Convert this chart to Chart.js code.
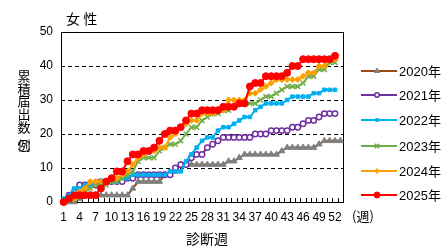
<!DOCTYPE html>
<html>
<head>
<meta charset="utf-8">
<script src="https://cdn.jsdelivr.net/npm/chart.js@4"></script>
<style>
  body { margin: 0; background: #fff; }
  #wrap { width: 445px; height: 251px; }
</style>
</head>
<body>
<div id="wrap"><canvas id="chart" width="445" height="251"></canvas></div>
<script>
// categories: diagnosis week
const weeks = [1, 2, 3, 4, 5, 6, 7, 8, 9, 10, 11, 12, 13, 14, 15, 16, 17, 18, 19, 20,
  21, 22, 23, 24, 25, 26, 27, 28, 29, 30, 31, 32, 33, 34, 35, 36, 37, 38, 39, 40,
  41, 42, 43, 44, 45, 46, 47, 48, 49, 50, 51, 52, 53]
const yTicks = [0, 10, 20, 30, 40, 50]

// cumulative counts per year
const y2020 = [0, 0, 0, 1, 2, 2, 2, 2, 2, 2, 2, 2, 2, 4, 6, 6, 6, 6, 6, 8,
  8, 9, 11, 11, 11, 11, 11, 11, 11, 11, 11, 12, 12, 13, 14, 14, 14, 14, 14, 14,
  14, 15, 16, 16, 16, 16, 16, 16, 17, 18, 18, 18, 18]
const y2021 = [0, 2, 3, 5, 5, 5, 5, 6, 6, 6, 6, 6, 7, 7, 8, 8, 8, 8, 8, 8,
  8, 10, 11, 11, 13, 14, 14, 16, 17, 18, 19, 19, 19, 19, 19, 19, 20, 20, 20, 21,
  21, 21, 21, 22, 22, 23, 24, 24, 25, 26, 26, 26, null]
const y2022 = [1, 2, 4, 4, 5, 5, 6, 6, 6, 6, 6, 7, 7, 8, 8, 8, 8, 8, 8, 8,
  9, 9, 9, 12, 14, 16, 18, 19, 19, 21, 22, 22, 23, 24, 25, 25, 27, 28, 29, 29,
  29, 29, 30, 31, 31, 31, 31, 32, 32, 33, 33, 33, null]
const y2023 = [0, 1, 1, 2, 3, 4, 5, 5, 5, 6, 6, 7, 8, 9, 12, 13, 13, 13, 15, 16,
  17, 17, 18, 20, 22, 22, 24, 25, 26, 26, 27, 27, 28, 29, 29, 29, 29, 30, 31, 31,
  32, 33, 34, 34, 34, 35, 37, 37, 39, 39, 41, 41, null]
const y2024 = [0, 1, 1, 3, 4, 6, 6, 6, 6, 7, 7, 8, 9, 11, 13, 14, 15, 15, 16, 16,
  19, 20, 22, 23, 24, 24, 26, 26, 26, 27, 27, 30, 30, 30, 30, 32, 32, 33, 34, 35,
  36, 36, 36, 36, 36, 37, 38, 38, 40, 40, 42, 42, null]
const y2025 = [0, 1, 2, 2, 2, 2, 2, 4, 6, 7, 9, 9, 12, 14, 14, 15, 15, 16, 18, 20,
  21, 21, 22, 24, 26, 26, 27, 27, 27, 27, 28, 28, 28, 29, 29, 34, 35, 35, 37, 37,
  37, 37, 38, 40, 40, 42, 42, 42, 42, 42, 42, 43, null]

const FONT = "'Liberation Sans', 'Noto Sans CJK JP', sans-serif"
const JP = "'Noto Sans CJK JP', sans-serif"

const series = [
  { label: '2020年', data: y2020, line: '#9C4A14', fill: '#808080', stroke: '#808080', style: 'triangle', r: 3.5, bw: 1 },
  { label: '2021年', data: y2021, line: '#7030A0', fill: '#ffffff', stroke: '#7030A0', style: 'circle', r: 2.7, bw: 1.5 },
  { label: '2022年', data: y2022, line: '#00B0F0', fill: '#00B0F0', stroke: '#00B0F0', style: 'rect', r: 2.5, bw: 1 },
  { label: '2023年', data: y2023, line: '#70AD47', fill: '#70AD47', stroke: '#70AD47', style: 'crossRot', r: 3.5, bw: 1.5 },
  { label: '2024年', data: y2024, line: '#FFA000', fill: '#FFA000', stroke: '#FFA000', style: 'rectRot', r: 3, bw: 1 },
  { label: '2025年', data: y2025, line: '#FF0000', fill: '#FF0000', stroke: '#FF0000', style: 'circle', r: 3.5, bw: 1 }
]

// frame + inner ticks + texts
const decor = {
  id: 'decor',
  beforeDatasetsDraw(chart) {
    const { ctx, chartArea: a } = chart
    ctx.save()
    ctx.strokeStyle = '#000'
    ctx.lineWidth = 1
    ctx.setLineDash([])
    ctx.strokeRect(Math.round(a.left) + 0.5, Math.round(a.top) + 0.5,
      Math.round(a.right - a.left), Math.round(a.bottom - a.top))
    const step = (a.right - a.left) / weeks.length
    ctx.beginPath()
    for (let k = 1; k < weeks.length; k++) {
      const x = Math.round(a.left + k * step) + 0.5
      ctx.moveTo(x, a.bottom)
      ctx.lineTo(x, a.bottom - 4)
    }
    ctx.stroke()
    ctx.restore()
  },
  afterDraw(chart) {
    const { ctx, chartArea: a } = chart
    ctx.save()
    ctx.fillStyle = '#000'
    ctx.textBaseline = 'middle'

    ctx.font = '14px ' + JP
    ctx.textAlign = 'left'
    ctx.fillText('女 性', 66, 19)

    // vertical y title
    ctx.font = '13px ' + JP
    ctx.textAlign = 'center'
    const chars = [['累', 76], ['積', 89], ['届', 101], ['出', 114], ['数', 127], ['︵', 137], ['例', 145], ['︶', 154]]
    chars.forEach(([c, y]) => ctx.fillText(c, 24, y))

    ctx.font = '13px ' + JP
    ctx.textAlign = 'left'
    ctx.fillText('(週)', 352, 216)

    ctx.font = '14px ' + JP
    ctx.textAlign = 'center'
    ctx.fillText('診断週', 207, 239)

    // legend
    const rows = [71, 95, 120, 146, 171, 195]
    series.forEach((s, i) => {
      const y = rows[i]
      ctx.strokeStyle = s.line
      ctx.lineWidth = 2
      ctx.beginPath()
      ctx.moveTo(361, y)
      ctx.lineTo(397, y)
      ctx.stroke()
      ctx.fillStyle = s.fill
      ctx.strokeStyle = s.stroke
      ctx.lineWidth = s.bw
      Chart.helpers.drawPoint(ctx, { pointStyle: s.style, radius: s.r - 0.5, rotation: 0, borderWidth: s.bw }, 377, y)
      ctx.fillStyle = '#000'
      ctx.font = '13px ' + FONT
      ctx.textAlign = 'left'
      ctx.fillText(s.label, 399, y + 1)
    })
    ctx.restore()
  }
}

new Chart(document.getElementById('chart'), {
  type: 'line',
  data: {
    labels: weeks,
    datasets: series.map((s, i) => ({
      label: s.label,
      data: s.data,
      borderColor: s.line,
      borderWidth: 2,
      pointStyle: s.style,
      pointRadius: s.r,
      pointBorderWidth: s.bw,
      pointBackgroundColor: s.fill,
      pointBorderColor: s.stroke,
      tension: 0,
      clip: false,
      order: series.length - i
    }))
  },
  options: {
    responsive: false,
    animation: false,
    devicePixelRatio: 1,
    layout: { padding: { left: 0, right: 102, top: 32, bottom: 0 } },
    plugins: {
      legend: { display: false },
      title: { display: false },
      tooltip: { enabled: false }
    },
    scales: {
      x: {
        type: 'category',
        offset: true,
        grid: { display: false, drawTicks: false },
        border: { display: false },
        ticks: {
          autoSkip: false,
          maxRotation: 0,
          padding: 8,
          color: '#000',
          font: { family: FONT, size: 12 },
          callback: (v, i) => (i % 3 === 0 && i < 52 ? weeks[i] : '')
        },
        afterFit: scale => { scale.height = 49 }
      },
      y: {
        min: yTicks[0],
        max: yTicks[yTicks.length - 1],
        afterBuildTicks: scale => { scale.ticks = yTicks.map(v => ({ value: v })) },
        grid: {
          drawTicks: false,
          color: ctx => (ctx.tick && (ctx.tick.value === 0 || ctx.tick.value === 50) ? 'rgba(0,0,0,0)' : '#000'),
          lineWidth: 1
        },
        border: { display: false, dash: [4, 3] },
        ticks: {
          padding: 8,
          color: '#000',
          font: { family: FONT, size: 12 }
        },
        afterFit: scale => { scale.width = 61 }
      }
    }
  },
  plugins: [decor]
})
</script>
</body>
</html>
